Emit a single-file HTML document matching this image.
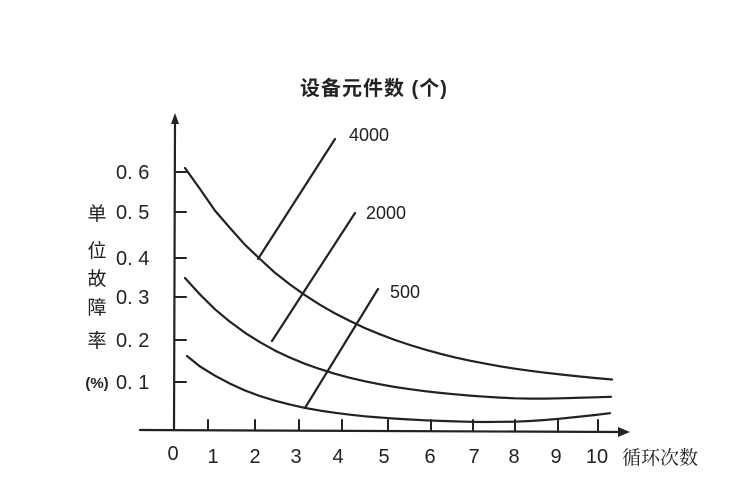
<!DOCTYPE html>
<html><head><meta charset="utf-8"><style>
body{margin:0;background:#fff;}
svg{display:block}
text{font-family:"Liberation Sans","Noto Sans CJK SC",sans-serif;fill:#222}
</style></head><body>
<svg width="730" height="490" viewBox="0 0 730 490" xmlns="http://www.w3.org/2000/svg">
<g stroke="#222" stroke-width="2.2" fill="none" stroke-linecap="round" stroke-linejoin="round">
<line x1="175" y1="122" x2="174" y2="430"/>
<line x1="140" y1="430" x2="620" y2="432"/>
<polyline points="185,168 200,189 215,210.6 230,228 245,244.8 260,259 275,272.8 290,284.5 305,295.2 320,304.8 335,313.4 350,321 365,328.1 380,334.3 395,340 410,345 425,349.6 440,353.7 455,357.4 470,360.7 485,363.6 500,366.3 515,368.7 530,370.8 545,372.7 560,374.4 575,376 595,378 612,379.5"/>
<polyline points="185,278 200,294.5 215,309.3 230,321.8 245,332.8 260,342.2 275,350.6 290,357.6 305,363.8 320,369.1 335,373.8 350,377.8 365,381.3 380,384.3 395,387 410,389.2 425,391.2 440,392.9 455,394.3 470,395.6 485,396.7 500,397.6 515,398.3 530,398.6 545,398.6 560,398.3 575,397.9 595,397.3 611,396.8"/>
<polyline points="187,356 200,366.5 215,375.7 230,383.6 245,390.5 260,396.1 275,400.7 290,404.6 305,407.9 320,410.6 335,412.8 350,414.7 365,416.3 380,417.5 395,418.6 410,419.5 425,420.3 440,420.9 455,421.4 470,421.8 485,422 500,421.8 515,421.7 530,421 545,420 560,418.7 575,417.1 595,415 610,413.2"/>
<line x1="258" y1="259" x2="335" y2="139"/>
<line x1="272" y1="341" x2="355" y2="213"/>
<line x1="305" y1="408" x2="378" y2="289"/>
<g stroke-width="2">
<line x1="175" y1="172" x2="186" y2="172"/>
<line x1="175" y1="212" x2="186" y2="212"/>
<line x1="175" y1="258" x2="186" y2="258"/>
<line x1="175" y1="297" x2="186" y2="297"/>
<line x1="175" y1="340" x2="186" y2="340"/>
<line x1="175" y1="382" x2="186" y2="382"/>
<line x1="208" y1="420" x2="208" y2="430"/>
<line x1="255" y1="420" x2="255" y2="430"/>
<line x1="299" y1="420" x2="299" y2="430"/>
<line x1="342" y1="420" x2="342" y2="431"/>
<line x1="388" y1="420" x2="388" y2="431"/>
<line x1="431" y1="420" x2="431" y2="431"/>
<line x1="473" y1="420" x2="473" y2="431"/>
<line x1="515" y1="420" x2="515" y2="431"/>
<line x1="558" y1="420" x2="558" y2="432"/>
<line x1="598" y1="420" x2="598" y2="432"/>
</g>
</g>
<polygon points="175,113 171,124 179,124" fill="#222"/>
<polygon points="630,432 618,427 618,437" fill="#222"/>
<g font-size="20" text-anchor="start">
<text x="116" y="179">0. 6</text>
<text x="116" y="219">0. 5</text>
<text x="116" y="265">0. 4</text>
<text x="116" y="304">0. 3</text>
<text x="116" y="347">0. 2</text>
<text x="116" y="389">0. 1</text>
</g>
<g font-size="20" text-anchor="middle">
<text x="173" y="460">0</text>
<text x="213" y="463">1</text>
<text x="255" y="463">2</text>
<text x="296" y="463">3</text>
<text x="338" y="463">4</text>
<text x="384" y="463">5</text>
<text x="430" y="463">6</text>
<text x="474" y="463">7</text>
<text x="514" y="463">8</text>
<text x="556" y="463">9</text>
<text x="597" y="463">10</text>
</g>
<text x="622" y="464" font-size="19" style="font-family:'Noto Serif CJK SC',serif">循环次数</text>
<g font-size="18" text-anchor="start">
<text x="349" y="141">4000</text>
<text x="366" y="219">2000</text>
<text x="390" y="298">500</text>
</g>
<text x="300" y="95" font-size="20" font-weight="bold" fill="#333" letter-spacing="1">设备元件数 (个)</text>
<g font-size="19" text-anchor="middle" fill="#444">
<text x="97" y="220">单</text>
<text x="97" y="257">位</text>
<text x="97" y="285">故</text>
<text x="97" y="314">障</text>
<text x="97" y="347">率</text>
<text x="97" y="388" font-size="15" font-weight="bold">(%)</text>
</g>
</svg>
</body></html>
